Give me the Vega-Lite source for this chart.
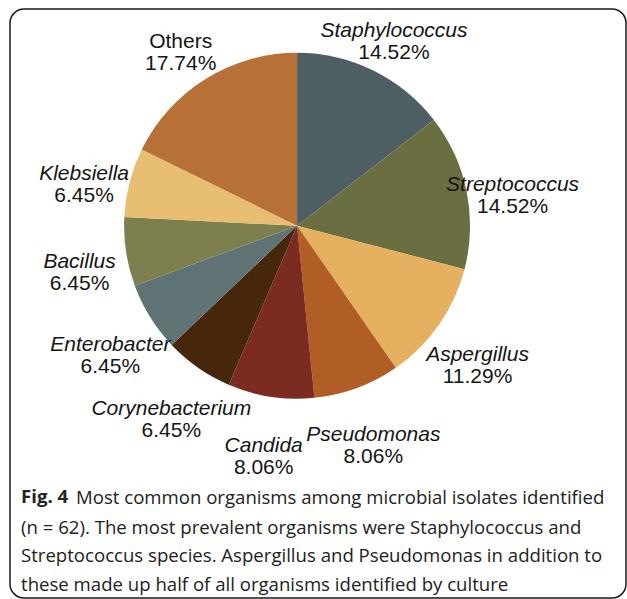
{
  "$schema": "https://vega.github.io/schema/vega-lite/v6.json",
  "padding": {"left": 9, "top": 8, "right": 1, "bottom": 1},
  "autosize": {"type": "pad"},
  "background": "white",
  "spacing": 0,
  "config": {
    "view": {"stroke": "#1a1a1a", "strokeWidth": 1.5, "cornerRadius": 14},
    "text": {"font": "Liberation Sans", "fontSize": 21, "fill": "#151515"}
  },
  "title": {
    "text": "Most common organisms among microbial isolates identified",
    "orient": "bottom",
    "anchor": "start",
    "frame": "group",
    "offset": -110,
    "dx": 66,
    "font": "Open Sans",
    "fontSize": 18.6,
    "fontWeight": "normal",
    "color": "#222222"
  },
  "vconcat": [
    {
      "width": 616,
      "height": 589,
      "title": {
        "text": "Fig. 4",
        "subtitle": [
          "(n = 62). The most prevalent organisms were Staphylococcus and",
          "Streptococcus species. Aspergillus and Pseudomonas in addition to",
          "these made up half of all organisms identified by culture"
        ],
        "orient": "bottom",
        "anchor": "start",
        "frame": "group",
        "offset": -110,
        "dx": 11,
        "font": "Open Sans",
        "fontSize": 18.6,
        "fontWeight": "bold",
        "color": "#222222",
        "subtitleFont": "Open Sans",
        "subtitleFontSize": 18.6,
        "subtitleFontWeight": "normal",
        "subtitleColor": "#222222",
        "subtitleLineHeight": 28.5,
        "subtitlePadding": 12
      },
      "data": {
        "values": [
          {"name": "Staphylococcus", "pct": 14.52, "label": "14.52%"},
          {"name": "Streptococcus", "pct": 14.52, "label": "14.52%"},
          {"name": "Aspergillus", "pct": 11.29, "label": "11.29%"},
          {"name": "Pseudomonas", "pct": 8.06, "label": "8.06%"},
          {"name": "Candida", "pct": 8.06, "label": "8.06%"},
          {"name": "Corynebacterium", "pct": 6.45, "label": "6.45%"},
          {"name": "Enterobacter", "pct": 6.45, "label": "6.45%"},
          {"name": "Bacillus", "pct": 6.45, "label": "6.45%"},
          {"name": "Klebsiella", "pct": 6.45, "label": "6.45%"},
          {"name": "Others", "pct": 17.74, "label": "17.74%"}
        ]
      },
      "transform": [{"window": [{"op": "row_number", "as": "idx"}]}],
      "encoding": {
        "theta": {"field": "pct", "type": "quantitative", "stack": true},
        "order": {"field": "idx", "type": "quantitative"},
        "x": {"datum": 0.466, "type": "quantitative", "scale": {"domain": [0, 1], "nice": false, "zero": false}, "axis": null},
        "y": {"datum": 0.632, "type": "quantitative", "scale": {"domain": [0, 1], "nice": false, "zero": false}, "axis": null}
      },
      "layer": [
        {
          "mark": {"type": "arc", "outerRadius": 173},
          "encoding": {
            "color": {
              "field": "name",
              "type": "nominal",
              "legend": null,
              "scale": {
                "domain": ["Staphylococcus", "Streptococcus", "Aspergillus", "Pseudomonas", "Candida", "Corynebacterium", "Enterobacter", "Bacillus", "Klebsiella", "Others"],
                "range": ["#4d5f62", "#6b6e40", "#e5b060", "#b05e25", "#7c2b22", "#47270c", "#5f7274", "#7d7f4f", "#e8bf72", "#b77036"]
              }
            }
          }
        },
        {
          "mark": {"type": "text", "radius": 220, "dy": 3, "fontStyle": "italic", "align": "center", "baseline": "middle"},
          "encoding": {
            "text": {"field": "name"},
            "opacity": {"condition": {"test": "datum.name === 'Others'", "value": 0}, "value": 1}
          }
        },
        {
          "mark": {"type": "text", "radius": 220, "dy": 3, "align": "center", "baseline": "middle"},
          "encoding": {
            "text": {"field": "name"},
            "opacity": {"condition": {"test": "datum.name === 'Others'", "value": 1}, "value": 0}
          }
        },
        {
          "mark": {"type": "text", "radius": 220, "dy": 25, "align": "center", "baseline": "middle"},
          "encoding": {
            "text": {"field": "label"}
          }
        }
      ]
    }
  ]
}
